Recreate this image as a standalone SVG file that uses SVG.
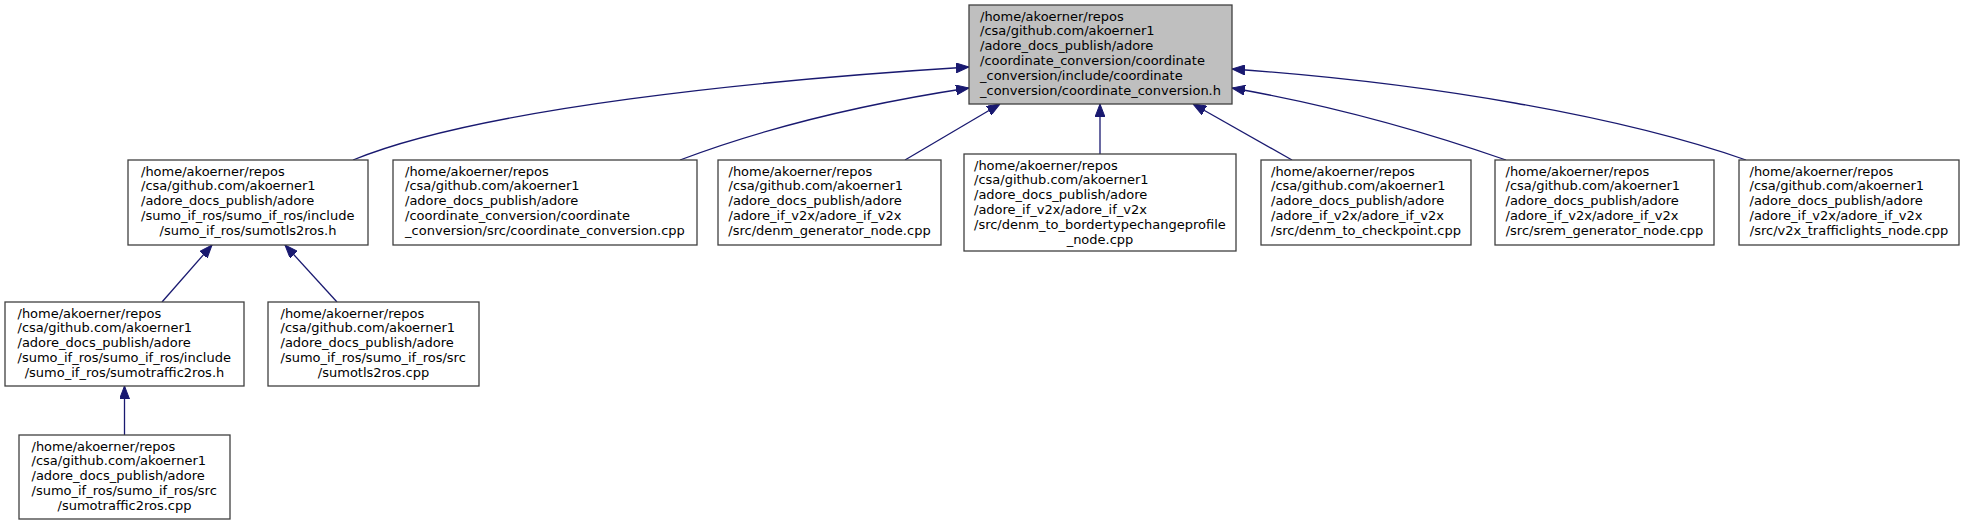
<svg xmlns="http://www.w3.org/2000/svg" width="1964" height="525" viewBox="0 0 1964 525">
<style>
.box{fill:#ffffff;stroke:#404040;stroke-width:1.3}
.root{fill:#bfbfbf;stroke:#404040;stroke-width:1.3}
text{font-family:"DejaVu Sans","Liberation Sans",sans-serif;font-size:13px;fill:#000000}
.c{text-anchor:middle}
.edge{fill:none;stroke:#191970;stroke-width:1.3;marker-end:url(#arr)}
</style>
<defs>
<marker id="arr" markerUnits="userSpaceOnUse" viewBox="0 0 13 10" markerWidth="13" markerHeight="10" refX="13" refY="5" orient="auto">
<path d="M0,0 L13,5 L0,10 z" fill="#191970" stroke="#191970" stroke-width="1"/>
</marker>
</defs>
<rect width="1964" height="525" fill="#ffffff"/>
<g id="connectors">
<path class="edge" d="M353,160 C480,108 760,80 969,67"/>
<path class="edge" d="M680,160 C770,126 870,103 969,88"/>
<path class="edge" d="M905,160 L1000,104"/>
<path class="edge" d="M1100,154 L1100,104"/>
<path class="edge" d="M1292,160 L1193,104"/>
<path class="edge" d="M1506,160 C1420,130 1330,105 1232,88"/>
<path class="edge" d="M1746,160 C1620,116 1430,83 1232,69"/>
<path class="edge" d="M162,302 L212,245"/>
<path class="edge" d="M337,302 L285,245"/>
<path class="edge" d="M124.5,435 L124.5,386"/>
</g>
<g id="root">
<rect class="root" x="969" y="5" width="263" height="99"/>
<text x="980" y="20.5">/home/akoerner/repos</text>
<text x="980" y="35.3">/csa/github.com/akoerner1</text>
<text x="980" y="50.1">/adore_docs_publish/adore</text>
<text x="980" y="64.9">/coordinate_conversion/coordinate</text>
<text x="980" y="79.7">_conversion/include/coordinate</text>
<text class="c" x="1100.5" y="94.5">_conversion/coordinate_conversion.h</text>
</g>
<g id="node1">
<rect class="box" x="128" y="160" width="240" height="85"/>
<text x="141" y="175.5">/home/akoerner/repos</text>
<text x="141" y="190.3">/csa/github.com/akoerner1</text>
<text x="141" y="205.1">/adore_docs_publish/adore</text>
<text x="141" y="219.9">/sumo_if_ros/sumo_if_ros/include</text>
<text class="c" x="248" y="234.7">/sumo_if_ros/sumotls2ros.h</text>
</g>
<g id="node2">
<rect class="box" x="393" y="160" width="304" height="85"/>
<text x="405" y="175.5">/home/akoerner/repos</text>
<text x="405" y="190.3">/csa/github.com/akoerner1</text>
<text x="405" y="205.1">/adore_docs_publish/adore</text>
<text x="405" y="219.9">/coordinate_conversion/coordinate</text>
<text class="c" x="545" y="234.7">_conversion/src/coordinate_conversion.cpp</text>
</g>
<g id="node3">
<rect class="box" x="718" y="160" width="223" height="85"/>
<text x="728.5" y="175.5">/home/akoerner/repos</text>
<text x="728.5" y="190.3">/csa/github.com/akoerner1</text>
<text x="728.5" y="205.1">/adore_docs_publish/adore</text>
<text x="728.5" y="219.9">/adore_if_v2x/adore_if_v2x</text>
<text class="c" x="829.5" y="234.7">/src/denm_generator_node.cpp</text>
</g>
<g id="node4">
<rect class="box" x="964" y="154" width="272" height="97"/>
<text x="974" y="169.5">/home/akoerner/repos</text>
<text x="974" y="184.3">/csa/github.com/akoerner1</text>
<text x="974" y="199.1">/adore_docs_publish/adore</text>
<text x="974" y="213.9">/adore_if_v2x/adore_if_v2x</text>
<text x="974" y="228.7">/src/denm_to_bordertypechangeprofile</text>
<text class="c" x="1100" y="243.5">_node.cpp</text>
</g>
<g id="node5">
<rect class="box" x="1261" y="160" width="210" height="85"/>
<text x="1271" y="175.5">/home/akoerner/repos</text>
<text x="1271" y="190.3">/csa/github.com/akoerner1</text>
<text x="1271" y="205.1">/adore_docs_publish/adore</text>
<text x="1271" y="219.9">/adore_if_v2x/adore_if_v2x</text>
<text class="c" x="1366" y="234.7">/src/denm_to_checkpoint.cpp</text>
</g>
<g id="node6">
<rect class="box" x="1495" y="160" width="219" height="85"/>
<text x="1505.5" y="175.5">/home/akoerner/repos</text>
<text x="1505.5" y="190.3">/csa/github.com/akoerner1</text>
<text x="1505.5" y="205.1">/adore_docs_publish/adore</text>
<text x="1505.5" y="219.9">/adore_if_v2x/adore_if_v2x</text>
<text class="c" x="1604.5" y="234.7">/src/srem_generator_node.cpp</text>
</g>
<g id="node7">
<rect class="box" x="1739" y="160" width="220" height="85"/>
<text x="1749.5" y="175.5">/home/akoerner/repos</text>
<text x="1749.5" y="190.3">/csa/github.com/akoerner1</text>
<text x="1749.5" y="205.1">/adore_docs_publish/adore</text>
<text x="1749.5" y="219.9">/adore_if_v2x/adore_if_v2x</text>
<text class="c" x="1849" y="234.7">/src/v2x_trafficlights_node.cpp</text>
</g>
<g id="node8">
<rect class="box" x="5" y="302" width="239" height="84"/>
<text x="17.5" y="317.5">/home/akoerner/repos</text>
<text x="17.5" y="332.3">/csa/github.com/akoerner1</text>
<text x="17.5" y="347.1">/adore_docs_publish/adore</text>
<text x="17.5" y="361.9">/sumo_if_ros/sumo_if_ros/include</text>
<text class="c" x="124.5" y="376.7">/sumo_if_ros/sumotraffic2ros.h</text>
</g>
<g id="node9">
<rect class="box" x="268" y="302" width="211" height="84"/>
<text x="280.5" y="317.5">/home/akoerner/repos</text>
<text x="280.5" y="332.3">/csa/github.com/akoerner1</text>
<text x="280.5" y="347.1">/adore_docs_publish/adore</text>
<text x="280.5" y="361.9">/sumo_if_ros/sumo_if_ros/src</text>
<text class="c" x="373.5" y="376.7">/sumotls2ros.cpp</text>
</g>
<g id="node10">
<rect class="box" x="19" y="435" width="211" height="84"/>
<text x="31.5" y="450.5">/home/akoerner/repos</text>
<text x="31.5" y="465.3">/csa/github.com/akoerner1</text>
<text x="31.5" y="480.1">/adore_docs_publish/adore</text>
<text x="31.5" y="494.9">/sumo_if_ros/sumo_if_ros/src</text>
<text class="c" x="124.5" y="509.7">/sumotraffic2ros.cpp</text>
</g>
</svg>
